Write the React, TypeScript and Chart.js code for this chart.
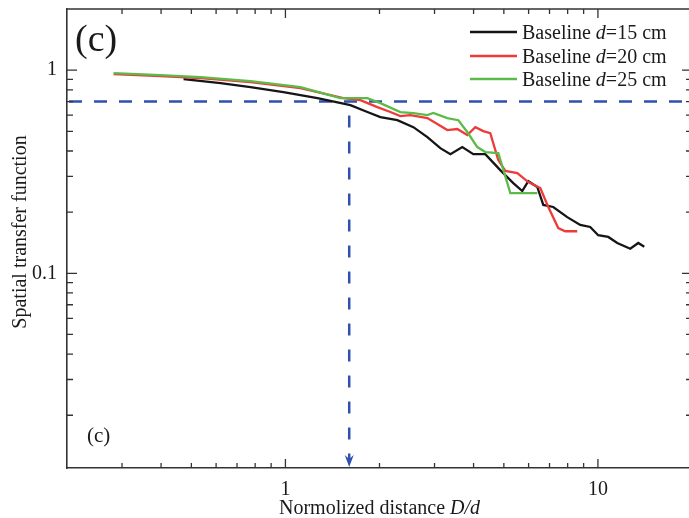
import { useEffect, useRef } from 'react';
import { Chart, registerables } from 'chart.js';

Chart.register(...registerables);

const FONT = '"Liberation Serif", "Times New Roman", serif';

// Axis ranges and labelled ticks
const xRange = [0.2, 20];
const yRange = [0.011, 2];
const xMajorTicks = [1, 10];
const yMajorTicks = [0.1, 1];

// Threshold markers
const thresholdY = 0.7;
const thresholdX = 1.6;

// Baseline d=15 cm (black)
const d15X = [0.472, 0.62, 0.773, 0.985, 1.266, 1.614, 1.829, 2.013, 2.281, 2.567, 2.846, 3.131, 3.372, 3.681, 3.993, 4.361, 4.87, 5.36, 5.727, 5.986, 6.397, 6.686, 7.195, 7.976, 8.777, 9.449, 10.02, 10.79, 11.53, 12.69, 13.46, 14.07];
const d15Y = [0.903, 0.863, 0.825, 0.779, 0.728, 0.673, 0.622, 0.587, 0.567, 0.524, 0.468, 0.413, 0.386, 0.418, 0.386, 0.386, 0.322, 0.278, 0.254, 0.284, 0.266, 0.217, 0.212, 0.189, 0.173, 0.169, 0.154, 0.151, 0.141, 0.132, 0.141, 0.135];

// Baseline d=20 cm (red)
const d20X = [0.282, 0.398, 0.535, 0.773, 1.117, 1.532, 1.737, 1.969, 2.167, 2.332, 2.511, 2.846, 3.297, 3.548, 3.819, 4.052, 4.298, 4.524, 4.799, 5.054, 5.521, 5.986, 6.541, 6.937, 7.465, 7.861, 8.585];
const d20Y = [0.956, 0.934, 0.913, 0.873, 0.816, 0.728, 0.712, 0.658, 0.622, 0.594, 0.601, 0.581, 0.507, 0.513, 0.479, 0.524, 0.501, 0.49, 0.361, 0.319, 0.311, 0.281, 0.263, 0.212, 0.167, 0.161, 0.161];

// Baseline d=25 cm (green)
const d25X = [0.282, 0.398, 0.535, 0.773, 1.117, 1.499, 1.829, 2.013, 2.332, 2.567, 2.846, 2.974, 3.297, 3.575, 3.819, 4.111, 4.361, 4.799, 5.244, 6.397];
const d25Y = [0.966, 0.945, 0.924, 0.883, 0.825, 0.728, 0.728, 0.688, 0.622, 0.615, 0.601, 0.615, 0.581, 0.567, 0.496, 0.418, 0.395, 0.391, 0.248, 0.248];

const seriesLabels = ['15', '20', '25'];
const seriesColors = ['#151515', '#f03a3a', '#5cbb48'];

const zip = (xs: number[], ys: number[]) => xs.map((x, i) => ({ x, y: ys[i] }));

type Run = [string, boolean];

function drawRuns(ctx: CanvasRenderingContext2D, runs: Run[], x: number, y: number, size: number, align: 'left' | 'center') {
  const widths = runs.map(([t, it]) => {
    ctx.font = `${it ? 'italic ' : ''}${size}px ${FONT}`;
    return ctx.measureText(t).width;
  });
  const total = widths.reduce((a, b) => a + b, 0);
  let cx = align === 'center' ? x - total / 2 : x;
  runs.forEach(([t, it], i) => {
    ctx.font = `${it ? 'italic ' : ''}${size}px ${FONT}`;
    ctx.textAlign = 'left';
    ctx.fillText(t, cx, y);
    cx += widths[i];
  });
}

function minorValues(min: number, max: number) {
  const vals: number[] = [];
  for (let e = Math.floor(Math.log10(min)); e <= Math.ceil(Math.log10(max)); e++) {
    for (let m = 1; m <= 9; m++) {
      const v = m * Math.pow(10, e);
      if (v >= min * 0.999 && v <= max * 1.001) vals.push(v);
    }
  }
  return vals;
}

const decorPlugin = {
  id: 'decor',
  beforeDatasetsDraw(chart: any) {
    const { ctx, chartArea, scales } = chart;
    const { left, right, bottom } = chartArea;
    const py = scales.y.getPixelForValue(thresholdY);
    const px = scales.x.getPixelForValue(thresholdX);
    ctx.save();
    ctx.strokeStyle = '#3050b0';
    ctx.fillStyle = '#3050b0';
    ctx.lineWidth = 2.5;
    ctx.setLineDash([13, 12]);
    ctx.beginPath();
    ctx.moveTo(left + 2, py);
    ctx.lineTo(right, py);
    ctx.stroke();
    ctx.setLineDash([12, 14]);
    ctx.lineDashOffset = 12;
    ctx.beginPath();
    ctx.moveTo(px, py);
    ctx.lineTo(px, bottom - 9);
    ctx.stroke();
    ctx.setLineDash([]);
    ctx.beginPath();
    ctx.moveTo(px - 4.5, bottom - 13);
    ctx.lineTo(px, bottom - 9);
    ctx.lineTo(px + 4.5, bottom - 13);
    ctx.lineTo(px, bottom - 1);
    ctx.closePath();
    ctx.fill();
    ctx.restore();
  },
  afterDraw(chart: any) {
    const { ctx, chartArea, scales } = chart;
    const { left, right, top, bottom } = chartArea;
    ctx.save();
    ctx.strokeStyle = '#333';
    ctx.lineWidth = 1.6;
    ctx.beginPath();
    ctx.moveTo(left, top);
    ctx.lineTo(right, top);
    ctx.lineTo(right, bottom);
    ctx.stroke();

    ctx.lineWidth = 1.3;
    minorValues(xRange[0], xRange[1]).forEach((v) => {
      const p = scales.x.getPixelForValue(v);
      const major = xMajorTicks.includes(v);
      const len = major ? 9 : 5;
      if (p <= left + 1 || p >= right - 1) return;
      ctx.beginPath();
      ctx.moveTo(p, bottom);
      ctx.lineTo(p, bottom - len);
      ctx.moveTo(p, top);
      ctx.lineTo(p, top + len);
      ctx.stroke();
    });
    minorValues(yRange[0], yRange[1]).forEach((v) => {
      const p = scales.y.getPixelForValue(v);
      const major = yMajorTicks.some((m) => Math.abs(m - v) < 1e-9);
      const len = major ? 10 : 6;
      if (p <= top + 1 || p >= bottom - 1) return;
      ctx.beginPath();
      ctx.moveTo(left, p);
      ctx.lineTo(left + len, p);
      ctx.moveTo(right, p);
      ctx.lineTo(right - len, p);
      ctx.stroke();
    });

    ctx.fillStyle = '#1a1a1a';
    ctx.textBaseline = 'alphabetic';
    // panel labels
    drawRuns(ctx, [['(c)', false]], 75, 51, 38, 'left');
    drawRuns(ctx, [['(c)', false]], 87, 442, 21, 'left');

    // legend
    const rows = [32, 56, 79];
    rows.forEach((ry, i) => {
      ctx.strokeStyle = seriesColors[i];
      ctx.lineWidth = 2.4;
      ctx.beginPath();
      ctx.moveTo(470, ry);
      ctx.lineTo(517, ry);
      ctx.stroke();
      ctx.fillStyle = '#1a1a1a';
      drawRuns(ctx, [['Baseline ', false], ['d', true], [`=${seriesLabels[i]} cm`, false]], 522, ry + 6.5, 20, 'left');
    });

    // axis titles
    drawRuns(ctx, [['Normolized distance ', false], ['D/d', true]], (left + right) / 2, 514, 20, 'center');
    ctx.translate(26, 232);
    ctx.rotate(-Math.PI / 2);
    drawRuns(ctx, [['Spatial transfer function', false]], 0, 0, 20, 'center');
    ctx.restore();
  },
};

export default function App() {
  const ref = useRef<HTMLCanvasElement>(null);
  useEffect(() => {
    if (!ref.current) return;
    const chart = new Chart(ref.current, {
      type: 'line',
      data: {
        datasets: [
          { label: 'Baseline d=15 cm', data: zip(d15X, d15Y), borderColor: seriesColors[0], order: 2 },
          { label: 'Baseline d=20 cm', data: zip(d20X, d20Y), borderColor: seriesColors[1], order: 1 },
          { label: 'Baseline d=25 cm', data: zip(d25X, d25Y), borderColor: seriesColors[2], order: 0 },
        ].map((d) => ({ ...d, borderWidth: 2.3, pointRadius: 0, tension: 0, fill: false })),
      },
      options: {
        animation: false,
        responsive: false,
        devicePixelRatio: 1,
        parsing: false as any,
        layout: { padding: { top: 9, right: 28, left: 0, bottom: 0 } },
        plugins: { legend: { display: false }, tooltip: { enabled: false } },
        scales: {
          x: {
            type: 'logarithmic',
            min: xRange[0],
            max: xRange[1],
            grid: { display: false, drawTicks: false },
            border: { display: true, color: '#333', width: 1.6 },
            afterBuildTicks: (s: any) => {
              s.ticks = xMajorTicks.map((v) => ({ value: v }));
            },
            afterFit: (s: any) => {
              s.height = 50;
              s.paddingLeft = 0;
              s.paddingRight = 0;
            },
            ticks: {
              autoSkip: false,
              maxRotation: 0,
              padding: 10,
              color: '#1a1a1a',
              font: { family: FONT, size: 20 },
              callback: (v: any) => String(v),
            },
          },
          y: {
            type: 'logarithmic',
            min: yRange[0],
            max: yRange[1],
            grid: { display: false, drawTicks: false },
            border: { display: true, color: '#333', width: 1.6 },
            afterBuildTicks: (s: any) => {
              s.ticks = yMajorTicks.map((v) => ({ value: v }));
            },
            afterFit: (s: any) => {
              s.width = 67;
              s.paddingTop = 0;
              s.paddingBottom = 0;
            },
            ticks: {
              autoSkip: false,
              padding: 10,
              color: '#1a1a1a',
              font: { family: FONT, size: 20 },
              callback: (v: any) => String(v),
            },
          },
        },
      },
      plugins: [decorPlugin],
    } as any);
    return () => chart.destroy();
  }, []);
  return (
    <div style={{ position: 'fixed', left: 0, top: 0, width: 720, height: 518, background: '#fff' }}>
      <canvas ref={ref} width={720} height={518} />
    </div>
  );
}
